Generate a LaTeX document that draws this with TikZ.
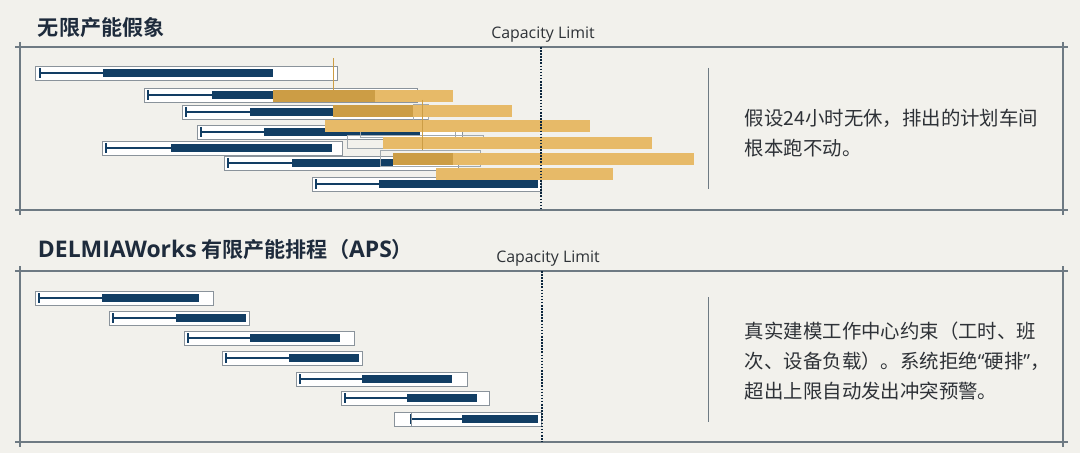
\documentclass[tikz,border=0pt]{standalone}
\usepackage{fontspec}
\setmainfont{Noto Sans CJK SC}[BoldFont={Noto Sans CJK SC Bold}]
\newfontfamily\latinfont{Open Sans}
\usetikzlibrary{calc}

\definecolor{paper}{HTML}{F2F1EC}
\definecolor{navy}{HTML}{123E64}
\definecolor{headink}{HTML}{1E2B3C}
\definecolor{framegray}{HTML}{6E7A83}
\definecolor{boxgray}{HTML}{8A939B}
\definecolor{gold}{HTML}{E7BA68}
\definecolor{golddark}{HTML}{CC9D45}
\definecolor{inkgray}{HTML}{2E3237}

\newcommand{\wide}[1]{{\latinfont\fontsize{16.3}{18}\selectfont #1}}

\tikzset{
  frame/.style={draw=framegray, line width=0.9pt},
  caplimit/.style={draw=navy!60!black, line width=1.7pt, dash pattern=on 1.1pt off 1.1pt},
  taskbox/.style={draw=boxgray, fill=white, line width=0.7pt},
  runbar/.style={fill=navy},
  lead/.style={draw=navy, line width=0.8pt},
  overbar/.style={fill=gold},
  overdark/.style={fill=golddark},
  ghost/.style={draw=boxgray!80, line width=0.6pt},
  heading/.style={anchor=west, text=headink, font=\fontsize{15}{18}\selectfont\bfseries},
  caplabel/.style={text=inkgray, font=\latinfont\fontsize{11.3}{13}\selectfont},
  note/.style={anchor=west, align=left, text=inkgray, font=\fontsize{13.8}{21}\selectfont}
}

\begin{document}
\begin{tikzpicture}[x=0.025cm, y=-0.025cm]
    \useasboundingbox (0,0) rectangle (1080,453);
    \fill[paper] (0,0) rectangle (1080,453);

    % top panel
    \node[heading] (title1) at (33,28) {无限产能假象};
    \node[caplabel] (cap1) at (543,35) {Capacity Limit};
    \draw[frame] (15,47) -- (1068,47);
    \draw[frame] (15,210) -- (1068,210);
    \draw[frame] (20,42) -- (20,215);
    \draw[frame] (1063,42) -- (1063,215);

    \foreach \l/\r/\t/\k/\a/\b in {35/337/66/40/103/273, 144/417/88/148/212/273,
        182/428/105/186/250/333, 197/462/125/201/264/420, 102/342/141/106/171/332,
        224/458/156/228/292/393, 312/541/177/316/379/538}{
      \draw[taskbox] (\l,\t) rectangle (\r,\t+14);
      \draw[lead] (\k,\t+2) -- (\k,\t+12);
      \draw[lead] (\k,\t+7) -- (\a,\t+7);
      \fill[runbar] (\a,\t+3) rectangle (\b,\t+11);
    }

    \draw[ghost] (347,135) rectangle (483,148);
    \draw[ghost] (360,122) rectangle (455,137);
    \draw[ghost] (413,104) rectangle (428,120);
    \draw[ghost] (380,150) rectangle (480,166);

    \fill[overdark] (273,90) rectangle (375,102);
    \fill[overbar] (375,90) rectangle (453,102);
    \fill[overdark] (333,105) rectangle (413,117);
    \fill[overbar] (413,105) rectangle (512,117);
    \fill[overbar] (325,120) rectangle (590,132);
    \fill[overbar] (383,137) rectangle (652,149);
    \fill[overdark] (393,153) rectangle (453,165);
    \fill[overbar] (453,153) rectangle (694,165);
    \fill[overbar] (436,168) rectangle (613,180);
    \draw[golddark, line width=0.5pt] (333,58) -- (333,100);
    \draw[golddark, line width=0.5pt] (422,100) -- (422,150);

    \coordinate (lim1a) at (541,47);
    \coordinate (lim1b) at (541,210);
    \draw[caplimit] (lim1a) -- (lim1b);
    \draw[framegray, line width=0.7pt] (708,68) -- (708,189);
    \node[note] (note1) at (740,133) {假设24小时无休，排出的计划车间\\根本跑不动。};

    % bottom panel
    \node[heading] (title2) at (33,250) {\wide{DELMIAWorks} 有限产能排程（\wide{APS}）};
    \node[caplabel] (cap2) at (548,259) {Capacity Limit};
    \draw[frame] (15,271) -- (1068,271);
    \draw[frame] (15,442) -- (1068,442);
    \draw[frame] (20,266) -- (20,447);
    \draw[frame] (1063,266) -- (1063,447);

    \foreach \l/\r/\t/\k/\a/\b in {35/213/291/39/102/199, 109/249/311/113/176/246,
        184/354/331/188/250/340, 222/362/351/226/289/359, 296/467/372/300/362/452,
        341/489/391/345/407/477, 394/541/412/411/462/538}{
      \draw[taskbox] (\l,\t) rectangle (\r,\t+14);
      \draw[lead] (\k,\t+2) -- (\k,\t+12);
      \draw[lead] (\k,\t+7) -- (\a,\t+7);
      \fill[runbar] (\a,\t+3) rectangle (\b,\t+11);
    }
    \draw[boxgray, line width=0.6pt] (411,412) -- (411,426);

    \coordinate (lim2a) at (542,271);
    \coordinate (lim2b) at (542,442);
    \draw[caplimit] (lim2a) -- (lim2b);
    \draw[framegray, line width=0.7pt] (708,297) -- (708,422);
    \node[note] (note2) at (740,361) {真实建模工作中心约束（工时、班\\次、设备负载）。系统拒绝{\latinfont “}硬排{\latinfont ”}，\\超出上限自动发出冲突预警。};
\end{tikzpicture}
\end{document}
